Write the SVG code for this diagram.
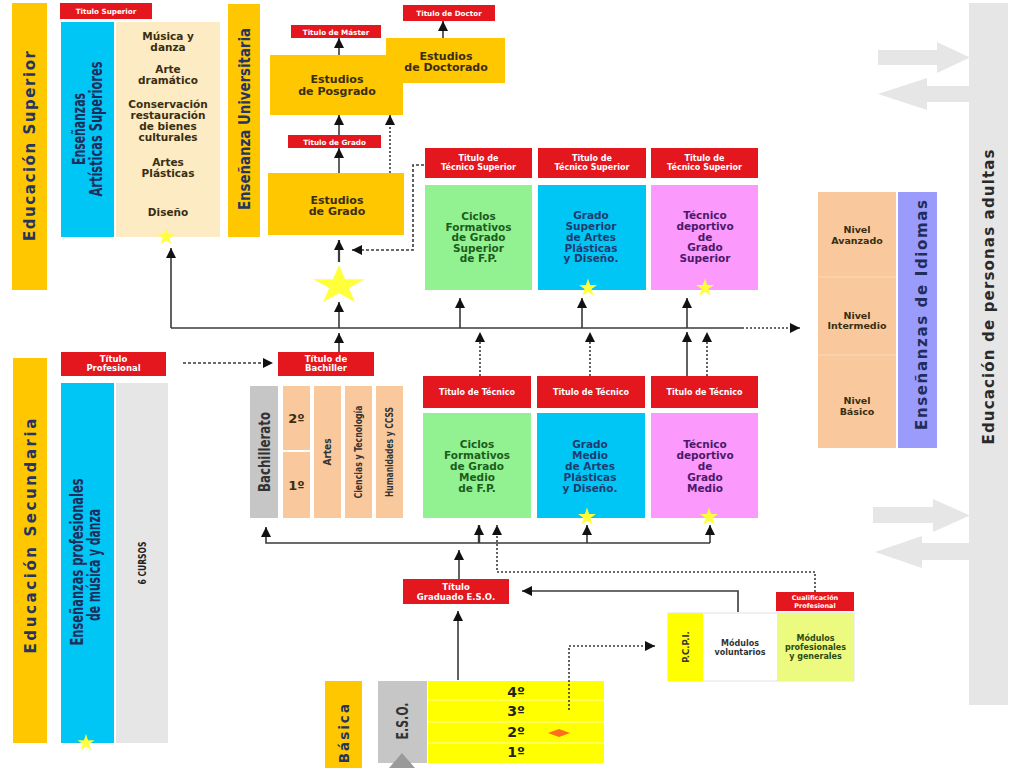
<svg xmlns="http://www.w3.org/2000/svg" width="1024" height="768" viewBox="0 0 1024 768">
<defs>
<marker id="ah" viewBox="0 0 10 10" refX="10" refY="5" markerWidth="10" markerHeight="10" markerUnits="userSpaceOnUse" orient="auto"><path d="M0,0 L10,5 L0,10 Z" fill="#111"/></marker>
<path id="star" d="M0,-10 L2.245,-3.09 L9.511,-3.09 L3.633,1.18 L5.878,8.09 L0,3.82 L-5.878,8.09 L-3.633,1.18 L-9.511,-3.09 L-2.245,-3.09 Z"/>
</defs>
<style>
.red{fill:#E4161E}
.gold{fill:#FFC700}
.cyan{fill:#00C6F5}
.cream{fill:#FCEBC3}
.green{fill:#92F292}
.pink{fill:#FC99FC}
.peach{fill:#F9C99D}
.gl{fill:#E6E6E6}
.gm{fill:#C6C6C6}
.lb{font-family:"DejaVu Sans",Verdana,sans-serif;font-weight:bold;fill:#fff;text-anchor:middle;font-size:8px}
.bt{font-family:"DejaVu Sans",Verdana,sans-serif;font-weight:bold;text-anchor:middle;font-size:10.5px}
.nar{font-family:"Liberation Sans Narrow","DejaVu Sans Condensed",sans-serif;text-anchor:middle;font-weight:bold}
.ttl{font-family:"DejaVu Sans",Verdana,sans-serif;font-weight:bold;text-anchor:middle;font-size:15px;fill:#253461}
.dk{fill:#3A2E12}
.tg{fill:#1D5C1D}
.tb{fill:#1F3C6E}
.tp{fill:#4A1A6A}
.ln{fill:none;stroke:#3a3a3a;stroke-width:1.6}
.dt{stroke-dasharray:2 2}
.ds{stroke-dasharray:3 2}
.st{fill:#FFFF3C}
.ga{fill:#E6E6E6}
</style>
<rect width="1024" height="768" fill="#fff"/>

<!-- Educación Superior -->
<g id="edu-superior">
<rect class="gold" x="12" y="3" width="35" height="287"/>
<text class="ttl" transform="translate(35,146) rotate(-90)" textLength="190" lengthAdjust="spacing">Educación Superior</text>
</g>

<g id="titulo-superior">
<rect class="red" x="60" y="3" width="92" height="16"/>
<text class="lb" x="106" y="14" style="font-size:7.2px">Titulo Superior</text>
</g>

<g id="artisticas-superiores">
<rect class="cyan" x="61" y="22" width="53" height="215"/>
<text class="nar" transform="translate(85,129) rotate(-90)" style="font-size:17px;fill:#1F2D5A" textLength="72" lengthAdjust="spacingAndGlyphs">Enseñanzas</text>
<text class="nar" transform="translate(102,129) rotate(-90)" style="font-size:17px;fill:#1F2D5A" textLength="135" lengthAdjust="spacingAndGlyphs">Artísticas Superiores</text>
</g>

<g id="artisticas-lista">
<rect class="cream" x="116" y="22" width="104" height="215"/>
<text class="bt dk" x="168" y="40">Música y</text>
<text class="bt dk" x="168" y="51">danza</text>
<text class="bt dk" x="168" y="73">Arte</text>
<text class="bt dk" x="168" y="84">dramático</text>
<text class="bt dk" x="168" y="108">Conservación</text>
<text class="bt dk" x="168" y="119">restauración</text>
<text class="bt dk" x="168" y="130">de bienes</text>
<text class="bt dk" x="168" y="141">culturales</text>
<text class="bt dk" x="168" y="166">Artes</text>
<text class="bt dk" x="168" y="177">Plásticas</text>
<text class="bt dk" x="168" y="216">Diseño</text>
<use href="#star" class="st" transform="translate(166,237) scale(0.9)"/>
</g>

<g id="ens-universitaria">
<rect class="gold" x="228" y="4" width="32" height="233"/>
<text class="nar" transform="translate(250,119) rotate(-90)" style="font-size:16px;fill:#253461" textLength="182" lengthAdjust="spacingAndGlyphs">Enseñanza Universitaria</text>
</g>

<g id="titulo-master">
<rect class="red" x="291" y="25" width="90" height="13"/>
<text class="lb" x="336" y="34.5" style="font-size:7.2px">Titulo de Máster</text>
</g>
<g id="titulo-doctor">
<rect class="red" x="403" y="5" width="92" height="16"/>
<text class="lb" x="449" y="16" style="font-size:7.2px">Titulo de Doctor</text>
</g>
<g id="estudios-doctorado">
<rect class="gold" x="386" y="38" width="119" height="45"/>
<text class="bt dk" x="446" y="60" style="font-size:11px">Estudios</text>
<text class="bt dk" x="446" y="71" style="font-size:11px">de Doctorado</text>
</g>
<g id="estudios-posgrado">
<rect class="gold" x="270" y="55" width="133" height="60"/>
<text class="bt dk" x="337" y="83" style="font-size:11px">Estudios</text>
<text class="bt dk" x="337" y="95" style="font-size:11px">de Posgrado</text>
</g>
<g id="titulo-grado">
<rect class="red" x="288" y="135" width="93" height="13"/>
<text class="lb" x="334.5" y="144.5" style="font-size:7.2px">Titulo de Grado</text>
</g>
<g id="estudios-grado">
<rect class="gold" x="268" y="173" width="136" height="62"/>
<text class="bt dk" x="337" y="204" style="font-size:11px">Estudios</text>
<text class="bt dk" x="337" y="215" style="font-size:11px">de Grado</text>
</g>

<g id="estrella">
<use href="#star" class="st" transform="translate(339,285.5) scale(2.7,2.05)"/>
</g>

<!-- Grado Superior -->
<g id="cfgs">
<rect class="red" x="425" y="148" width="107" height="30"/>
<text class="lb" x="478.5" y="161">Titulo de</text>
<text class="lb" x="478.5" y="170">Técnico Superior</text>
<rect class="green" x="425" y="185" width="107" height="105"/>
<text class="bt tg" x="478.5" y="220">Ciclos</text>
<text class="bt tg" x="478.5" y="231">Formativos</text>
<text class="bt tg" x="478.5" y="241">de Grado</text>
<text class="bt tg" x="478.5" y="252">Superior</text>
<text class="bt tg" x="478.5" y="262">de F.P.</text>
</g>
<g id="apd-superior">
<rect class="red" x="538" y="148" width="108" height="30"/>
<text class="lb" x="592" y="161">Titulo de</text>
<text class="lb" x="592" y="170">Técnico Superior</text>
<rect class="cyan" x="538" y="185" width="108" height="105"/>
<text class="bt tb" x="591" y="219">Grado</text>
<text class="bt tb" x="591" y="230">Superior</text>
<text class="bt tb" x="591" y="241">de Artes</text>
<text class="bt tb" x="591" y="252">Plásticas</text>
<text class="bt tb" x="591" y="262">y Diseño.</text>
<use href="#star" class="st" transform="translate(588,288) scale(0.95)"/>
</g>
<g id="td-superior">
<rect class="red" x="651" y="148" width="107" height="30"/>
<text class="lb" x="704.5" y="161">Titulo de</text>
<text class="lb" x="704.5" y="170">Técnico Superior</text>
<rect class="pink" x="651" y="185" width="107" height="105"/>
<text class="bt tp" x="705" y="219">Técnico</text>
<text class="bt tp" x="705" y="230">deportivo</text>
<text class="bt tp" x="705" y="241">de</text>
<text class="bt tp" x="705" y="251">Grado</text>
<text class="bt tp" x="705" y="262">Superior</text>
<use href="#star" class="st" transform="translate(705,288) scale(0.95)"/>
</g>

<!-- Idiomas -->
<g id="niveles">
<rect class="peach" x="818" y="192" width="78" height="256"/>
<line x1="818" y1="277" x2="896" y2="277" stroke="#FBD9B8" stroke-width="1"/>
<line x1="818" y1="355" x2="896" y2="355" stroke="#FBD9B8" stroke-width="1"/>
<text class="bt dk" x="857" y="233" style="font-size:9.5px">Nivel</text>
<text class="bt dk" x="857" y="244" style="font-size:9.5px">Avanzado</text>
<text class="bt dk" x="857" y="319" style="font-size:9.5px">Nivel</text>
<text class="bt dk" x="857" y="329" style="font-size:9.5px">Intermedio</text>
<text class="bt dk" x="857" y="404" style="font-size:9.5px">Nivel</text>
<text class="bt dk" x="857" y="415" style="font-size:9.5px">Básico</text>
</g>
<g id="idiomas">
<rect x="898" y="192" width="39" height="256" fill="#9B9BFB"/>
<text class="ttl" transform="translate(927,315) rotate(-90)" textLength="230" lengthAdjust="spacing" style="fill:#1F2D5A">Enseñanzas de Idiomas</text>
</g>

<g id="adultas">
<rect class="gl" x="969" y="3" width="39" height="702"/>
<polygon class="ga" points="878,50 937,50 937,42 970,57.5 937,73 937,65 878,65"/>
<polygon class="ga" points="970,86 927,86 927,78 878,94 927,110 927,102 970,102"/>
<polygon class="ga" points="873,507 933,507 933,499 970,515.5 933,532 933,523 873,523"/>
<polygon class="ga" points="970,543 922,543 922,536 875,552 922,568 922,560 970,560"/>
<text class="ttl" transform="translate(994,297) rotate(-90)" textLength="295" lengthAdjust="spacing" style="fill:#2a2a2a;font-weight:600;font-size:15px">Educación de personas adultas</text>
</g>

<!-- Educación Secundaria -->
<g id="edu-secundaria">
<rect class="gold" x="13" y="358" width="34" height="385"/>
<text class="ttl" transform="translate(36,536) rotate(-90)" textLength="235" lengthAdjust="spacing">Educación Secundaria</text>
</g>
<g id="titulo-profesional">
<rect class="red" x="61" y="352" width="105" height="24"/>
<text class="lb" x="113.5" y="362" style="font-size:8.5px">Título</text>
<text class="lb" x="113.5" y="371" style="font-size:8.5px">Profesional</text>
</g>
<g id="ens-profesionales">
<rect class="cyan" x="61" y="383" width="53" height="360"/>
<text class="nar" transform="translate(83,562) rotate(-90)" style="font-size:17px;fill:#1F2D5A" textLength="167" lengthAdjust="spacingAndGlyphs">Enseñanzas profesionales</text>
<text class="nar" transform="translate(100,565) rotate(-90)" style="font-size:17px;fill:#1F2D5A" textLength="112" lengthAdjust="spacingAndGlyphs">de música y danza</text>
<use href="#star" class="st" transform="translate(86,743) scale(0.9)"/>
</g>
<g id="seis-cursos">
<rect class="gl" x="116" y="383" width="52" height="360"/>
<text class="nar" transform="translate(146,563) rotate(-90)" style="font-size:11px;fill:#222" textLength="43" lengthAdjust="spacingAndGlyphs">6 CURSOS</text>
</g>

<g id="titulo-bachiller">
<rect class="red" x="278" y="352" width="96" height="24"/>
<text class="lb" x="326" y="362" style="font-size:8.5px">Título de</text>
<text class="lb" x="326" y="371" style="font-size:8.5px">Bachiller</text>
</g>
<g id="bachillerato">
<rect class="gm" x="250" y="386" width="28" height="132"/>
<text class="nar" transform="translate(270,452) rotate(-90)" style="font-size:15px;fill:#333" textLength="80" lengthAdjust="spacingAndGlyphs">Bachillerato</text>
<rect class="peach" x="283" y="386" width="27" height="64"/>
<rect class="peach" x="283" y="452" width="27" height="66"/>
<text class="bt dk" x="296.5" y="423" style="font-size:13px">2º</text>
<text class="bt dk" x="296.5" y="490" style="font-size:13px">1º</text>
<rect class="peach" x="314" y="386" width="27" height="132"/>
<text class="nar" transform="translate(331,452) rotate(-90)" style="font-size:10px;fill:#333">Artes</text>
<rect class="peach" x="345" y="386" width="27" height="132"/>
<text class="nar" transform="translate(362,452) rotate(-90)" style="font-size:10px;fill:#333" textLength="93" lengthAdjust="spacingAndGlyphs">Ciencias y Tecnología</text>
<rect class="peach" x="376" y="386" width="27" height="132"/>
<text class="nar" transform="translate(393,452) rotate(-90)" style="font-size:10px;fill:#333" textLength="90" lengthAdjust="spacingAndGlyphs">Humanidades y CCSS</text>
</g>

<!-- Grado Medio -->
<g id="cfgm">
<rect class="red" x="423" y="376" width="108" height="32"/>
<text class="lb" x="477" y="395">Titulo de Técnico</text>
<rect class="green" x="423" y="413" width="108" height="105"/>
<text class="bt tg" x="477" y="448">Ciclos</text>
<text class="bt tg" x="477" y="459">Formativos</text>
<text class="bt tg" x="477" y="470">de Grado</text>
<text class="bt tg" x="477" y="481">Medio</text>
<text class="bt tg" x="477" y="492">de F.P.</text>
</g>
<g id="apd-medio">
<rect class="red" x="537" y="376" width="108" height="32"/>
<text class="lb" x="591" y="395">Titulo de Técnico</text>
<rect class="cyan" x="537" y="413" width="108" height="105"/>
<text class="bt tb" x="590" y="448">Grado</text>
<text class="bt tb" x="590" y="459">Medio</text>
<text class="bt tb" x="590" y="470">de Artes</text>
<text class="bt tb" x="590" y="481">Plásticas</text>
<text class="bt tb" x="590" y="492">y Diseño.</text>
<use href="#star" class="st" transform="translate(587,517) scale(0.95)"/>
</g>
<g id="td-medio">
<rect class="red" x="651" y="376" width="107" height="32"/>
<text class="lb" x="704.5" y="395">Titulo de Técnico</text>
<rect class="pink" x="651" y="413" width="107" height="105"/>
<text class="bt tp" x="705" y="448">Técnico</text>
<text class="bt tp" x="705" y="459">deportivo</text>
<text class="bt tp" x="705" y="470">de</text>
<text class="bt tp" x="705" y="481">Grado</text>
<text class="bt tp" x="705" y="492">Medio</text>
<use href="#star" class="st" transform="translate(709,517) scale(0.95)"/>
</g>

<g id="titulo-graduado">
<rect class="red" x="403" y="579" width="106" height="25"/>
<text class="lb" x="456" y="590" style="font-size:8.5px">Título</text>
<text class="lb" x="456" y="600" style="font-size:8.5px">Graduado E.S.O.</text>
</g>
<g id="cualificacion">
<rect class="red" x="776" y="592" width="78" height="19"/>
<text class="lb" x="815" y="600" style="font-size:6.5px">Cualificación</text>
<text class="lb" x="815" y="608" style="font-size:6.5px">Profesional</text>
</g>
<g id="pcpi">
<rect x="668" y="613" width="186" height="68" fill="#fff" stroke="#e2e2e2" stroke-width="1"/>
<rect x="668" y="613" width="35" height="68" fill="#FFFF00"/>
<text class="bt" transform="translate(689,647) rotate(-90)" style="font-size:8.5px;fill:#333">P.C.P.I.</text>
<text class="bt" x="740" y="646" style="font-size:8px;fill:#333">Módulos</text>
<text class="bt" x="740" y="655" style="font-size:8px;fill:#333">voluntarios</text>
<rect x="777" y="613" width="77" height="68" fill="#ECFB80"/>
<text class="bt" x="815.5" y="641" style="font-size:8px;fill:#2E4A10">Módulos</text>
<text class="bt" x="815.5" y="650" style="font-size:8px;fill:#2E4A10">profesionales</text>
<text class="bt" x="815.5" y="659" style="font-size:8px;fill:#2E4A10">y generales</text>
</g>

<g id="edu-basica">
<rect class="gold" x="325" y="681" width="37" height="87"/>
<text class="ttl" transform="translate(349,702) rotate(-90)" style="text-anchor:end;letter-spacing:2px;font-size:13.5px">Básica</text>
</g>
<g id="eso">
<rect class="gm" x="378" y="681" width="49" height="82"/>
<text class="nar" transform="translate(408,721) rotate(-90)" style="font-size:15px;fill:#333" textLength="37" lengthAdjust="spacingAndGlyphs">E.S.O.</text>
<polygon points="389,768 402,753 415,768" fill="#9a9a9a"/>
<rect x="428" y="681" width="176" height="82" fill="#FFFF00"/>
<line x1="428" y1="700" x2="604" y2="700" stroke="#FFFBB0" stroke-width="1"/>
<line x1="428" y1="722" x2="604" y2="722" stroke="#FFFBB0" stroke-width="1"/>
<line x1="428" y1="743" x2="604" y2="743" stroke="#FFFBB0" stroke-width="1"/>
<text class="bt" x="516" y="697" style="font-size:14px;fill:#222">4º</text>
<text class="bt" x="516" y="716" style="font-size:14px;fill:#222">3º</text>
<text class="bt" x="516" y="737" style="font-size:14px;fill:#222">2º</text>
<text class="bt" x="516" y="757" style="font-size:14px;fill:#222">1º</text>
<polygon points="548,733 559,729 570,733 559,737" fill="#FF6D1F"/>
</g>

<!-- Connectors -->
<g id="connectors">
<line class="ln" x1="339" y1="173" x2="339" y2="148" marker-end="url(#ah)"/>
<line class="ln" x1="339" y1="135" x2="339" y2="115" marker-end="url(#ah)"/>
<line class="ln" x1="339" y1="55" x2="339" y2="38" marker-end="url(#ah)"/>
<line class="ln" x1="443" y1="38" x2="443" y2="21" marker-end="url(#ah)"/>
<line class="ln dt" x1="390" y1="173" x2="390" y2="115" marker-end="url(#ah)"/>
<polyline class="ln ds" points="424,165 413,165 413,250 352,250" marker-end="url(#ah)"/>
<line class="ln" x1="339" y1="262" x2="339" y2="240" marker-end="url(#ah)" style="stroke-width:2.2"/>
<line class="ln" x1="339" y1="328" x2="339" y2="302" marker-end="url(#ah)"/>
<line class="ln" x1="171" y1="328" x2="742" y2="328"/>
<line class="ln dt" x1="742" y1="328" x2="800" y2="328" marker-end="url(#ah)"/>
<line class="ln" x1="171" y1="328" x2="171" y2="248" marker-end="url(#ah)"/>
<line class="ln" x1="460" y1="328" x2="460" y2="298" marker-end="url(#ah)"/>
<line class="ln" x1="582" y1="328" x2="582" y2="298" marker-end="url(#ah)"/>
<line class="ln" x1="687" y1="328" x2="687" y2="298" marker-end="url(#ah)"/>
<line class="ln" x1="339" y1="352" x2="339" y2="333" marker-end="url(#ah)"/>
<line class="ln dt" x1="480" y1="376" x2="480" y2="332" marker-end="url(#ah)"/>
<line class="ln dt" x1="590" y1="376" x2="590" y2="332" marker-end="url(#ah)"/>
<line class="ln" x1="687" y1="376" x2="687" y2="332" marker-end="url(#ah)"/>
<line class="ln dt" x1="707" y1="376" x2="707" y2="332" marker-end="url(#ah)"/>
<line class="ln ds" x1="183" y1="363" x2="273" y2="363" marker-end="url(#ah)"/>
<polyline class="ln" points="710,543 266,543 266,527" marker-end="url(#ah)"/>
<line class="ln" x1="479" y1="543" x2="479" y2="525" marker-end="url(#ah)" style="stroke-width:2.4"/>
<line class="ln" x1="587" y1="543" x2="587" y2="525" marker-end="url(#ah)"/>
<line class="ln" x1="710" y1="543" x2="710" y2="525" marker-end="url(#ah)"/>
<line class="ln" x1="459" y1="579" x2="459" y2="550" marker-end="url(#ah)"/>
<polyline class="ln dt" points="815,592 815,572 497,572 497,525" marker-end="url(#ah)"/>
<polyline class="ln" points="738,612 738,591 522,591" marker-end="url(#ah)"/>
<line class="ln" x1="458" y1="680" x2="458" y2="611" marker-end="url(#ah)"/>
<polyline class="ln dt" points="569,710 569,646 655,646" marker-end="url(#ah)"/>
</g>
</svg>
